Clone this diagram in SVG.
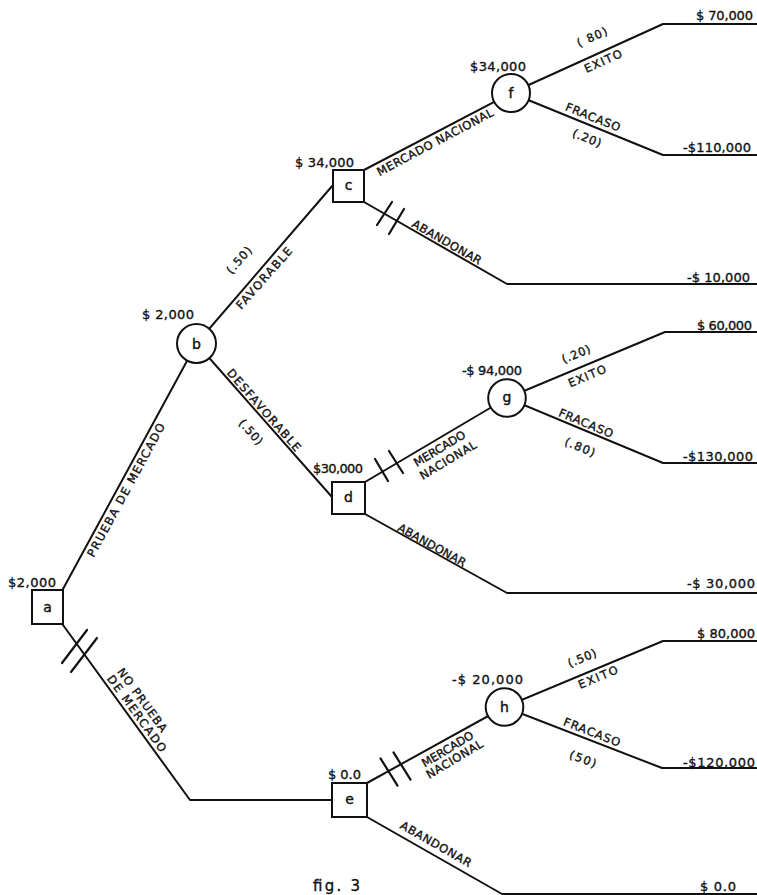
<svg xmlns="http://www.w3.org/2000/svg" width="757" height="895" viewBox="0 0 757 895">
<style>
.ln{fill:none;stroke:#111;stroke-width:2;stroke-linejoin:round;stroke-linecap:round}
.br{stroke:#111;stroke-width:2.2;stroke-linecap:round}
.nd{fill:#fff;stroke:#111;stroke-width:2}
.t{font-family:"DejaVu Sans","Liberation Sans",sans-serif;fill:#111;font-size:11.5px;stroke:#111;stroke-width:0.35px}
.v{font-family:"DejaVu Sans","Liberation Sans",sans-serif;fill:#111;font-size:13px;stroke:#111;stroke-width:0.35px}
.nl{font-family:"DejaVu Sans","Liberation Sans",sans-serif;fill:#111;font-size:14px;text-anchor:middle;stroke:#111;stroke-width:0.4px}
.m{text-anchor:middle}
</style>
<rect width="757" height="895" fill="#fff"/>
<g id="connectors">
<polyline class="ln" points="63,589 196.5,343.5"/>
<polyline class="ln" points="196.5,343.5 333,185"/>
<polyline class="ln" points="196.5,343.5 332,497"/>
<polyline class="ln" points="364,170 511,93"/>
<polyline class="ln" points="364,202 507,284 757,284"/>
<polyline class="ln" points="511,93 663,24 757,24"/>
<polyline class="ln" points="511,93 663,155 757,155"/>
<polyline class="ln" points="365,482 507,398"/>
<polyline class="ln" points="365,514 507,593 757,593"/>
<polyline class="ln" points="507,398 665,332 757,332"/>
<polyline class="ln" points="507,398 663,463 757,463"/>
<polyline class="ln" points="63,625 190,800 332,800"/>
<polyline class="ln" points="367,783 504.5,707"/>
<polyline class="ln" points="367,817 502,894 757,894"/>
<polyline class="ln" points="504.5,707 663,641 757,641"/>
<polyline class="ln" points="504.5,707 662,768 757,768"/>
<line class="br" x1="62" y1="663" x2="87" y2="630"/>
<line class="br" x1="71" y1="672" x2="97" y2="638"/>
<line class="br" x1="377" y1="225" x2="392" y2="202"/>
<line class="br" x1="389" y1="234" x2="404" y2="209"/>
<line class="br" x1="375" y1="459" x2="388" y2="481"/>
<line class="br" x1="389" y1="451" x2="403" y2="473"/>
<line class="br" x1="380.5" y1="758.4" x2="397.5" y2="785.6"/>
<line class="br" x1="393.5" y1="752.4" x2="410.5" y2="779.6"/>
</g>
<g id="node-a"><rect class="nd" x="32" y="590" width="31" height="34"/><text class="nl" x="47.5" y="612">a</text><text class="v" x="8" y="587" textLength="48" lengthAdjust="spacing">$2,000</text></g>
<g id="node-b"><circle class="nd" cx="196.5" cy="343.5" r="19.5"/><text class="nl" x="196.5" y="349">b</text><text class="v" x="142" y="319" textLength="52" lengthAdjust="spacing">$ 2,000</text></g>
<g id="node-c"><rect class="nd" x="333" y="170" width="31" height="32"/><text class="nl" x="348.5" y="190">c</text><text class="v" x="295" y="167" textLength="59" lengthAdjust="spacing">$ 34,000</text></g>
<g id="node-d"><rect class="nd" x="332" y="482" width="33" height="32"/><text class="nl" x="348.5" y="502">d</text><text class="v" x="313" y="473" textLength="50" lengthAdjust="spacing">$30,000</text></g>
<g id="node-e"><rect class="nd" x="332" y="783" width="35" height="34"/><text class="nl" x="349.5" y="804">e</text><text class="v" x="328" y="779" textLength="33" lengthAdjust="spacing">$ 0.0</text></g>
<g id="node-f"><circle class="nd" cx="511" cy="93" r="19"/><text class="nl" x="511" y="98">f</text><text class="v" x="470" y="71" textLength="56" lengthAdjust="spacing">$34,000</text></g>
<g id="node-g"><circle class="nd" cx="507" cy="398" r="18.8"/><text class="nl" x="507" y="402">g</text><text class="v" x="462" y="375" textLength="60" lengthAdjust="spacing">-$ 94,000</text></g>
<g id="node-h"><circle class="nd" cx="504.5" cy="707" r="18.8"/><text class="nl" x="504.5" y="712">h</text><text class="v" x="452" y="684" textLength="71" lengthAdjust="spacing">-$ 20,000</text></g>
<g id="outcomes">
<text class="v" x="696" y="20" textLength="57" lengthAdjust="spacing">$ 70,000</text>
<text class="v" x="683" y="152" textLength="68" lengthAdjust="spacing">-$110,000</text>
<text class="v" x="687" y="282" textLength="63" lengthAdjust="spacing">-$ 10,000</text>
<text class="v" x="697" y="330" textLength="55" lengthAdjust="spacing">$ 60,000</text>
<text class="v" x="683" y="461" textLength="70" lengthAdjust="spacing">-$130,000</text>
<text class="v" x="687" y="588" textLength="68" lengthAdjust="spacing">-$ 30,000</text>
<text class="v" x="697" y="638" textLength="58" lengthAdjust="spacing">$ 80,000</text>
<text class="v" x="683" y="767" textLength="72" lengthAdjust="spacing">-$120,000</text>
<text class="v" x="700" y="891" textLength="36" lengthAdjust="spacing">$ 0.0</text>
</g>
<g id="labels">
<text class="t m" transform="translate(126,490) rotate(-61.5)" dy="0.36em" textLength="150" lengthAdjust="spacing">PRUEBA DE MERCADO</text>
<text class="t m" transform="translate(264,278) rotate(-48.5)" dy="0.36em" textLength="78" lengthAdjust="spacing">FAVORABLE</text>
<text class="t m" transform="translate(239,260) rotate(-48.5)" dy="0.36em" textLength="32" lengthAdjust="spacing">(.50)</text>
<text class="t m" transform="translate(264,410) rotate(48.6)" dy="0.36em" textLength="105" lengthAdjust="spacing">DESFAVORABLE</text>
<text class="t m" transform="translate(251,432) rotate(48.6)" dy="0.36em" textLength="30" lengthAdjust="spacing">(.50)</text>
<text class="t m" transform="translate(435,142) rotate(-28)" dy="0.36em" textLength="130" lengthAdjust="spacing">MERCADO NACIONAL</text>
<text class="t m" transform="translate(447,242) rotate(29.8)" dy="0.36em" textLength="78" lengthAdjust="spacing">ABANDONAR</text>
<text class="t m" transform="translate(592,37) rotate(-24)" dy="0.36em" textLength="32" lengthAdjust="spacing">( 80)</text>
<text class="t m" transform="translate(603,61) rotate(-24)" dy="0.36em" textLength="40" lengthAdjust="spacing">EXITO</text>
<text class="t m" transform="translate(593,117) rotate(22)" dy="0.36em" textLength="58" lengthAdjust="spacing">FRACASO</text>
<text class="t m" transform="translate(587,138) rotate(22)" dy="0.36em" textLength="30" lengthAdjust="spacing">(.20)</text>
<text class="t m" transform="translate(439.5,448.5) rotate(-31)" dy="0.36em" textLength="58" lengthAdjust="spacing">MERCADO</text>
<text class="t m" transform="translate(448,460) rotate(-31)" dy="0.36em" textLength="64" lengthAdjust="spacing">NACIONAL</text>
<text class="t m" transform="translate(576,354) rotate(-22.7)" dy="0.36em" textLength="30" lengthAdjust="spacing">(.20)</text>
<text class="t m" transform="translate(587,376) rotate(-22.7)" dy="0.36em" textLength="40" lengthAdjust="spacing">EXITO</text>
<text class="t m" transform="translate(586,423) rotate(22.6)" dy="0.36em" textLength="58" lengthAdjust="spacing">FRACASO</text>
<text class="t m" transform="translate(580,447) rotate(22.6)" dy="0.36em" textLength="32" lengthAdjust="spacing">(.80)</text>
<text class="t m" transform="translate(432,545) rotate(29.1)" dy="0.36em" textLength="76" lengthAdjust="spacing">ABANDONAR</text>
<text class="t m" transform="translate(142.5,700) rotate(54)" dy="0.36em" textLength="76" lengthAdjust="spacing">NO PRUEBA</text>
<text class="t m" transform="translate(137,713.5) rotate(54)" dy="0.36em" textLength="92" lengthAdjust="spacing">DE MERCADO</text>
<text class="t m" transform="translate(447.5,749) rotate(-31)" dy="0.36em" textLength="58" lengthAdjust="spacing">MERCADO</text>
<text class="t m" transform="translate(454.5,759) rotate(-31)" dy="0.36em" textLength="64" lengthAdjust="spacing">NACIONAL</text>
<text class="t m" transform="translate(582,658) rotate(-22.6)" dy="0.36em" textLength="30" lengthAdjust="spacing">(.50)</text>
<text class="t m" transform="translate(598,677) rotate(-22.6)" dy="0.36em" textLength="42" lengthAdjust="spacing">EXITO</text>
<text class="t m" transform="translate(592,732) rotate(21.2)" dy="0.36em" textLength="60" lengthAdjust="spacing">FRACASO</text>
<text class="t m" transform="translate(583,759) rotate(21.2)" dy="0.36em" textLength="28" lengthAdjust="spacing">(50)</text>
<text class="t m" transform="translate(436,844) rotate(29.7)" dy="0.36em" textLength="80" lengthAdjust="spacing">ABANDONAR</text>
<text class="v" x="313" y="891" style="font-size:15px" textLength="47" lengthAdjust="spacing">fig. 3</text>
</g>
</svg>
